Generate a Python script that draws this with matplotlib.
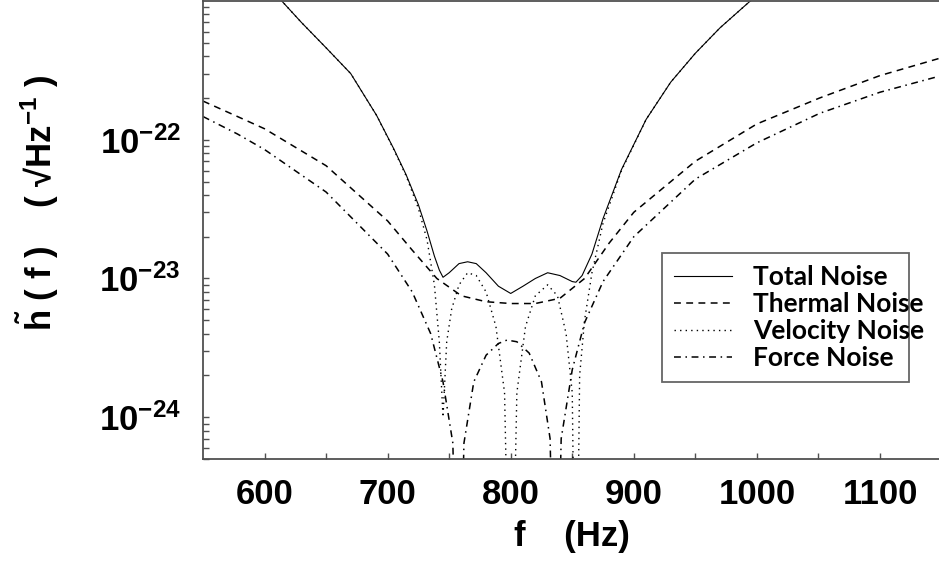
import math
import matplotlib
matplotlib.use("Agg")
import matplotlib.pyplot as plt
from matplotlib.ticker import FixedLocator, FuncFormatter, LogLocator, NullFormatter

plt.rcParams['font.family'] = ['Liberation Sans', 'DejaVu Sans']
plt.rcParams['mathtext.fontset'] = 'custom'
plt.rcParams['mathtext.rm'] = 'Liberation Sans:bold'
plt.rcParams['mathtext.bf'] = 'Liberation Sans:bold'
plt.rcParams['mathtext.it'] = 'Liberation Sans:bold'

# ---- data (Hz, strain / sqrt(Hz)) ----
total_f = [600, 614, 630, 650, 670, 691, 705, 715, 725, 732, 738, 742, 745, 750, 758, 765,
           772, 780, 790, 800, 810, 820, 830, 840, 850, 853, 858, 866, 875, 890, 910, 930,
           950, 970, 990, 1000]
total_h = [1.6e-21, 1.0e-21, 7.0e-22, 4.6e-22, 3.0e-22, 1.5e-22, 8.6e-23, 5.6e-23, 3.4e-23,
           2.2e-23, 1.45e-23, 1.15e-23, 1.02e-23, 1.1e-23, 1.28e-23, 1.32e-23, 1.28e-23,
           1.1e-23, 8.8e-24, 7.8e-24, 8.8e-24, 1.0e-23, 1.1e-23, 1.05e-23, 9.5e-24, 9.4e-24,
           1.05e-23, 1.5e-23, 2.7e-23, 6.1e-23, 1.4e-22, 2.6e-22, 4.2e-22, 6.4e-22, 9.2e-22,
           1.1e-21]

thermal_f = [550, 578, 600, 650, 700, 720, 740, 760, 780, 800, 820, 840, 860, 880, 900, 950,
             1000, 1051, 1100, 1150]
thermal_h = [1.9e-22, 1.47e-22, 1.2e-22, 6.5e-23, 2.6e-23, 1.6e-23, 1.0e-23, 7.5e-24, 6.8e-24,
             6.6e-24, 6.6e-24, 7.2e-24, 1.0e-23, 1.8e-23, 3.0e-23, 7.0e-23, 1.3e-22, 2.0e-22,
             2.9e-22, 3.9e-22]

velocity_f = [600, 614, 630, 650, 670, 691, 705, 715, 725, 732, 738, 742, 745, 748, 752, 758,
              765, 772, 780, 788, 795, 800, 805, 812, 820, 830, 838, 845, 850, 853, 856, 860,
              866, 875, 890, 910, 930, 950, 970, 990, 1000]
velocity_h = [1.6e-21, 1.0e-21, 7.0e-22, 4.6e-22, 3.0e-22, 1.5e-22, 8.5e-23, 5.5e-23, 3.2e-23,
              1.9e-23, 9.0e-24, 3.5e-24, 1.0e-24, 3.5e-24, 6.0e-24, 9.0e-24, 1.1e-23, 1.05e-23,
              8.0e-24, 4.5e-24, 1.5e-24, 1e-26, 1.5e-24, 4.5e-24, 7.5e-24, 9.0e-24, 7.5e-24,
              4.0e-24, 1.5e-24, 1e-26, 2.0e-24, 5.0e-24, 1.1e-23, 2.5e-23, 6.0e-23, 1.4e-22,
              2.6e-22, 4.2e-22, 6.4e-22, 9.2e-22, 1.1e-21]

force_f = [550, 578, 600, 650, 700, 720, 735, 745, 753, 757.5, 762, 770, 780, 790, 797, 805,
           815, 825, 832, 836.5, 841, 850, 860, 875, 900, 950, 1000, 1051, 1100, 1150]
force_h = [1.47e-22, 1.1e-22, 8.5e-23, 4.2e-23, 1.5e-23, 8.0e-24, 4.0e-24, 1.8e-24, 6.5e-25,
           1e-26, 6.5e-25, 1.8e-24, 2.8e-24, 3.4e-24, 3.6e-24, 3.5e-24, 2.9e-24, 1.8e-24,
           7.0e-25, 1e-26, 7.0e-25, 2.2e-24, 4.8e-24, 9.5e-24, 2.0e-23, 5.2e-23, 9.5e-23,
           1.55e-22, 2.2e-22, 2.9e-22]

labels = ['Total Noise', 'Thermal Noise', 'Velocity Noise', 'Force Noise']
xticks = [600, 700, 800, 900, 1000, 1100]
yticks = [1e-24, 1e-23, 1e-22]

W, H = 939, 566
fig = plt.figure(figsize=(W / 100, H / 100), dpi=100)
ax_l, ax_r, ax_t, ax_b = 203, 941.5, 1, 459
ax = fig.add_axes([ax_l / W, 1 - ax_b / H, (ax_r - ax_l) / W, (ax_b - ax_t) / H])

ax.plot(total_f, total_h, color='black', lw=0.8, ls='-', label=labels[0])
ax.plot(thermal_f, thermal_h, color='black', lw=1.1, ls=(0, (4.5, 3.5)), label=labels[1])
ax.plot(velocity_f, velocity_h, color='black', lw=1.0, ls=(0, (1, 3)), label=labels[2])
ax.plot(force_f, force_h, color='black', lw=1.1, ls=(0, (4.5, 3, 1, 3)), label=labels[3])

ax.set_yscale('log')
ax.set_xlim(550, 1150)
ax.set_ylim(5e-25, 1.0e-21)

ax.xaxis.set_major_locator(FixedLocator(xticks))
ax.xaxis.set_minor_locator(FixedLocator([650, 750, 850, 950, 1050]))
ax.yaxis.set_major_locator(FixedLocator(yticks))
ax.yaxis.set_minor_locator(LogLocator(base=10, subs=range(2, 10)))
ax.yaxis.set_minor_formatter(NullFormatter())


def yfmt(v, pos):
    e = int(round(math.log10(v)))
    return r'$\mathbf{10^{%d}}$' % e


ax.yaxis.set_major_formatter(FuncFormatter(yfmt))
ax.xaxis.set_major_formatter(FuncFormatter(lambda v, p: '%d' % v))

for s in ['left', 'bottom', 'top']:
    ax.spines[s].set_color('#505050')
    ax.spines[s].set_linewidth(1.3)
ax.spines['right'].set_visible(False)

ax.tick_params(which='both', direction='in', length=4, width=1.0, color='#505050')
ax.tick_params(axis='x', which='major', labelsize=25, pad=14)
ax.tick_params(axis='y', which='major', labelsize=25, pad=16)
for t in ax.get_xticklabels():
    t.set_fontweight('bold')

ax.set_xlabel('f    (Hz)', fontsize=25, fontweight='bold', labelpad=6)

fig.text(38 / W, 1 - 203 / H,
         r'$\tilde{\mathbf{h}}$' + ' ( f )    ( √Hz' + r'$^{-1}$' + ' )',
         rotation=90, fontsize=25, fontweight='bold', ha='center', va='center')

# legend box: x 662-909 px, top at 253 px
lx0 = (662 - ax_l) / (ax_r - ax_l)
lx1 = (909 - ax_l) / (ax_r - ax_l)
ly1 = 1 - (253 - ax_t) / (ax_b - ax_t)
leg = ax.legend(loc='upper left', bbox_to_anchor=(lx0, ly1 - 0.3, lx1 - lx0, 0.3),
                mode='expand', borderaxespad=0, frameon=True, fancybox=False,
                prop={'family': 'Lato', 'weight': 'bold', 'size': 19},
                handlelength=2.2, handletextpad=0.8, labelspacing=0.12, borderpad=0.45)
leg.get_frame().set_edgecolor('#404040')
leg.get_frame().set_linewidth(1.3)

fig.savefig('out.png', dpi=100)
